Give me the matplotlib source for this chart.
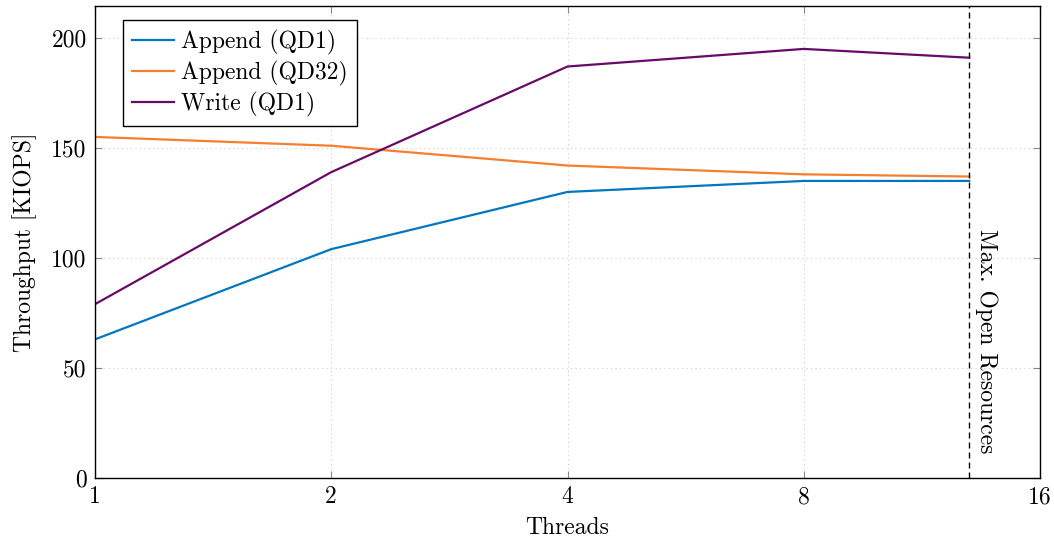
import matplotlib
matplotlib.use("Agg")
import matplotlib.pyplot as plt
from matplotlib.ticker import FixedLocator, NullLocator, FixedFormatter

plt.rcParams['font.family'] = 'serif'
plt.rcParams['font.serif'] = ['cmr10', 'DejaVu Serif']
plt.rcParams['mathtext.fontset'] = 'cm'
plt.rcParams['axes.unicode_minus'] = False
plt.rcParams['axes.formatter.use_mathtext'] = True

threads = [1, 2, 4, 8, 13]
append_qd1 = [63, 104, 130, 135, 135]
append_qd32 = [155, 151, 142, 138, 137]
write_qd1 = [79, 139, 187, 195, 191]
max_open = 13
xticks = [1, 2, 4, 8, 16]
yticks = [0, 50, 100, 150, 200]

FS = 17

fig = plt.figure(figsize=(10.54, 5.41), dpi=100)
ax = fig.add_axes([95/1054, 63/541, 945/1054, 472/541])

ax.plot(threads, append_qd1, color='#0077C0', lw=1.6, label='Append (QD1)')
ax.plot(threads, append_qd32, color='#F57F2E', lw=1.6, label='Append (QD32)')
ax.plot(threads, write_qd1, color='#680A68', lw=1.6, label='Write (QD1)')
ax.axvline(max_open, color='black', lw=1.0, ls=(0, (4.3, 2.9)))
ax.text(max_open * 1.05, 62, 'Max. Open Resources', rotation=-90,
        ha='center', va='center', fontsize=FS)

ax.set_xscale('log', base=2)
ax.set_xlim(1, 16)
ax.set_ylim(0, 214.5)
ax.xaxis.set_major_locator(FixedLocator(xticks))
ax.xaxis.set_major_formatter(FixedFormatter([str(t) for t in xticks]))
ax.xaxis.set_minor_locator(NullLocator())
ax.yaxis.set_major_locator(FixedLocator(yticks))
ax.yaxis.set_major_formatter(FixedFormatter([str(t) for t in yticks]))

ax.grid(True, which='major', color='#cccccc', ls=(0, (1, 3)), lw=0.8)
ax.tick_params(direction='in', length=5, color='#888888', labelsize=FS,
               top=True, right=True, pad=6)
for s in ax.spines.values():
    s.set_linewidth(1.0)

ax.set_xlabel('Threads', fontsize=FS, labelpad=6)
ax.set_ylabel('Throughput [KIOPS]', fontsize=FS, labelpad=10)

leg = ax.legend(loc='upper left', bbox_to_anchor=(0.0296, 0.970), fontsize=FS,
                fancybox=False, edgecolor='black', framealpha=1,
                handlelength=1.75, borderpad=0.4, labelspacing=0.25,
                handletextpad=0.3, borderaxespad=0)
leg.get_frame().set_linewidth(1.0)

fig.savefig('out.png', dpi=100)
